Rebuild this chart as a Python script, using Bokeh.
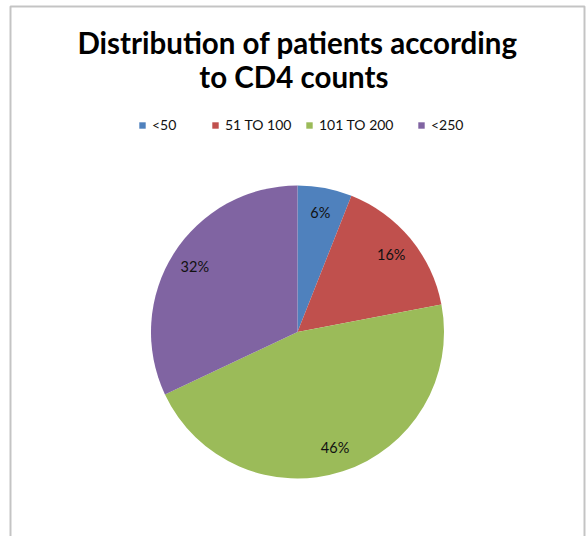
import numpy as np
from bokeh.plotting import figure
from bokeh.models import ColumnDataSource, Legend, LegendItem, BoxAnnotation, Range1d
from bokeh.core.properties import value
from bokeh.embed import file_html
from bokeh.resources import INLINE

# ---- data ----
categories = ["<50", "51 TO 100", "101 TO 200", "<250"]
percent = [6, 16, 46, 32]
colors = ["#4F81BD", "#C0504D", "#9BBB59", "#8064A2"]
title_lines = ["Distribution of patients according", "to  CD4 counts"]

W, H = 588, 536
FONT = "Lato"

p = figure(width=W, height=H, x_range=Range1d(0, W), y_range=Range1d(0, H),
           min_border=0, output_backend="svg", toolbar_location=None,
           x_axis_location=None, y_axis_location=None)
p.grid.visible = False
p.outline_line_color = None
p.background_fill_color = "white"
p.border_fill_color = "white"

# border of chart area
p.add_layout(BoxAnnotation(left=10, right=584, top=H - 6, bottom=-20,
                           fill_alpha=0, line_color="#3C3C3C", line_width=2))

# pie geometry
cx, cy, R = 297, H - 331.5, 146.5
vals = np.array(percent, dtype=float)
frac = vals / vals.sum()
cum_end = np.cumsum(frac)
cum_start = cum_end - frac
start = np.pi / 2 - 2 * np.pi * cum_end
end = np.pi / 2 - 2 * np.pi * cum_start
mid = (start + end) / 2
lr = 0.83 * R
src = ColumnDataSource(dict(cat=categories, val=percent, color=colors,
                            start=start, end=end,
                            lx=cx + lr * np.cos(mid), ly=cy + lr * np.sin(mid),
                            lab=[f"{v}%" for v in percent]))

r = p.wedge(x=cx, y=cy, radius=R, start_angle="start", end_angle="end",
            direction="anticlock", fill_color="color", line_color=None, source=src)

p.text(x="lx", y="ly", text="lab", source=src, text_font=value(FONT),
       text_font_size="14.5px", text_align="center", text_baseline="middle",
       text_color="#111111")

# title
tsrc = ColumnDataSource(dict(x=[W / 2 + 3, W / 2 + 3], y=[H - 42, H - 76], t=title_lines))
p.text(x="x", y="y", text="t", source=tsrc, text_font=value(FONT),
       text_font_size="29.5px", text_font_style="bold", text_align="center",
       text_baseline="middle", text_color="black")

# legend: one entry per category at Excel-like positions
leg_x = [138, 211, 305, 417]
for i, c in enumerate(categories):
    leg = Legend(items=[LegendItem(label=c, renderers=[r], index=i)],
                 orientation="horizontal", location=(leg_x[i], H - 133),
                 glyph_width=8, glyph_height=8, label_standoff=6, spacing=0,
                 label_text_font=FONT, label_text_font_size="14px",
                 label_text_color="#111111", padding=0, margin=0,
                 border_line_color=None, background_fill_alpha=0, label_height=15)
    p.add_layout(leg, "center")

open("out.html", "w").write(file_html(p, INLINE))
